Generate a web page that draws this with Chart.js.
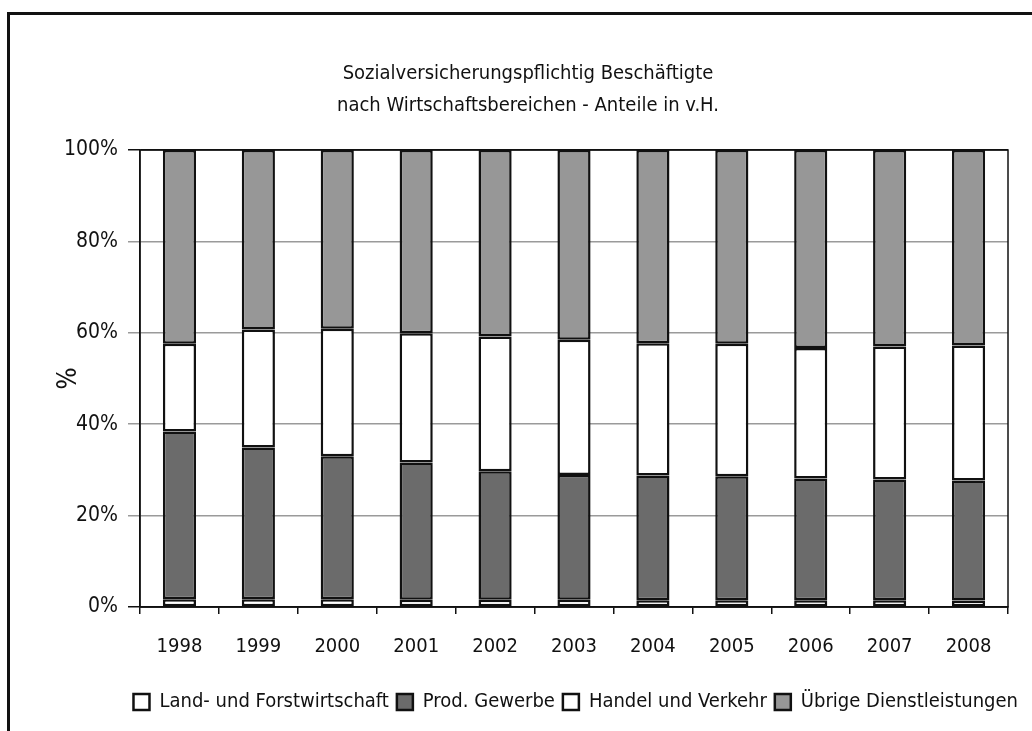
<!DOCTYPE html>
<html>
<head>
<meta charset="utf-8">
<script src="https://cdn.jsdelivr.net/npm/chart.js@4"></script>
<style>
  body { margin: 0; background: #fff; }
  #wrap { position: relative; width: 1032px; height: 731px; overflow: hidden; }
  #frame {
    position: absolute; left: 7px; top: 12px; width: 1100px; height: 800px;
    border-left: 3px solid #111; border-top: 3px solid #111;
  }
  canvas { position: absolute; left: 0; top: 0; }
</style>
</head>
<body>
<div id="wrap">
  <div id="frame"></div>
  <canvas id="barChart" width="1032" height="731"></canvas>
</div>
<script>
const years = ["1998", "1999", "2000", "2001", "2002", "2003", "2004", "2005", "2006", "2007", "2008"];
// shares in % per sector
const landForst = [1.7, 1.7, 1.7, 1.6, 1.6, 1.6, 1.5, 1.5, 1.5, 1.5, 1.4];
const prodGewerbe = [36.7, 33.2, 31.3, 30.0, 28.1, 27.3, 27.3, 27.1, 26.6, 26.4, 26.3];
const handelVerkehr = [19.2, 25.8, 27.9, 28.3, 29.5, 29.6, 28.9, 29.0, 28.6, 29.1, 29.5];
const uebrigeDienst = [42.4, 39.3, 39.1, 40.1, 40.8, 41.5, 42.3, 42.4, 43.3, 43.0, 42.8];
const yTicks = [0, 20, 40, 60, 80, 100];

const FONT = "'Liberation Sans Narrow', 'Arial Narrow', 'DejaVu Sans Condensed', sans-serif";

// thin black frame round the plot area, legend nudged right like the original
const plotBorder = {
  id: "plotBorder",
  afterLayout(chart) {
    chart.legend.left += 18;
    chart.legend.right += 18;
  },
  afterDraw(chart) {
    const { ctx, chartArea: a } = chart;
    ctx.save();
    ctx.strokeStyle = "#111";
    ctx.lineWidth = 1.5;
    ctx.strokeRect(a.left, a.top, a.right - a.left, a.bottom - a.top);
    ctx.restore();
  },
};

const bar = (label, data, color) => ({
  label: label,
  data: data,
  backgroundColor: color,
  borderColor: "#111",
  borderWidth: 2.5,
  borderSkipped: false,
  barPercentage: 0.42,
  categoryPercentage: 1,
});

new Chart(document.getElementById("barChart"), {
  type: "bar",
  data: {
    labels: years,
    datasets: [
      bar("Land- und Forstwirtschaft", landForst, "#ffffff"),
      bar("Prod. Gewerbe", prodGewerbe, "#6b6b6b"),
      bar("Handel und Verkehr", handelVerkehr, "#ffffff"),
      bar("Übrige Dienstleistungen", uebrigeDienst, "#979797"),
    ],
  },
  options: {
    responsive: false,
    animation: false,
    devicePixelRatio: 1,
    layout: { padding: { left: 48, right: 24, top: 0, bottom: 9 } },
    plugins: {
      tooltip: { enabled: false },
      title: {
        display: true,
        text: ["Sozialversicherungspflichtig Beschäftigte", "nach Wirtschaftsbereichen - Anteile in v.H."],
        color: "#111",
        font: { family: FONT, size: 20, weight: "normal", lineHeight: 1.6 },
        padding: { top: 58, bottom: 28 },
      },
      legend: {
        position: "bottom",
        align: "end",
        labels: {
          color: "#111",
          font: { family: FONT, size: 20 },
          boxWidth: 16,
          boxHeight: 16,
          padding: 8,
        },
      },
    },
    scales: {
      x: {
        stacked: true,
        afterFit: (scale) => { scale.height = 77; },
        grid: {
          offset: true,
          drawOnChartArea: false,
          drawTicks: true,
          tickLength: 7,
          color: "#111",
          lineWidth: 1.5,
        },
        border: { color: "#111", width: 1.5 },
        ticks: {
          color: "#111",
          font: { family: FONT, size: 20 },
          padding: 21,
          maxRotation: 0,
        },
      },
      y: {
        stacked: true,
        min: 0,
        max: 100,
        afterFit: (scale) => { scale.width = 92; },
        afterBuildTicks: (scale) => { scale.ticks = yTicks.map((v) => ({ value: v })); },
        grid: {
          color: (c) => (c.tick && (c.tick.value === 0 || c.tick.value === 100) ? "#111" : "#9a9a9a"),
          lineWidth: 1.5,
          tickLength: 12,
        },
        border: { color: "#111", width: 1.5 },
        ticks: {
          color: "#111",
          font: { family: FONT, size: 21 },
          padding: 10,
          callback: (v) => v + "%",
        },
        title: {
          display: true,
          text: "%",
          color: "#111",
          font: { family: FONT, size: 26 },
          padding: { top: 6, bottom: 0 },
        },
      },
    },
  },
  plugins: [plotBorder],
});
</script>
</body>
</html>
